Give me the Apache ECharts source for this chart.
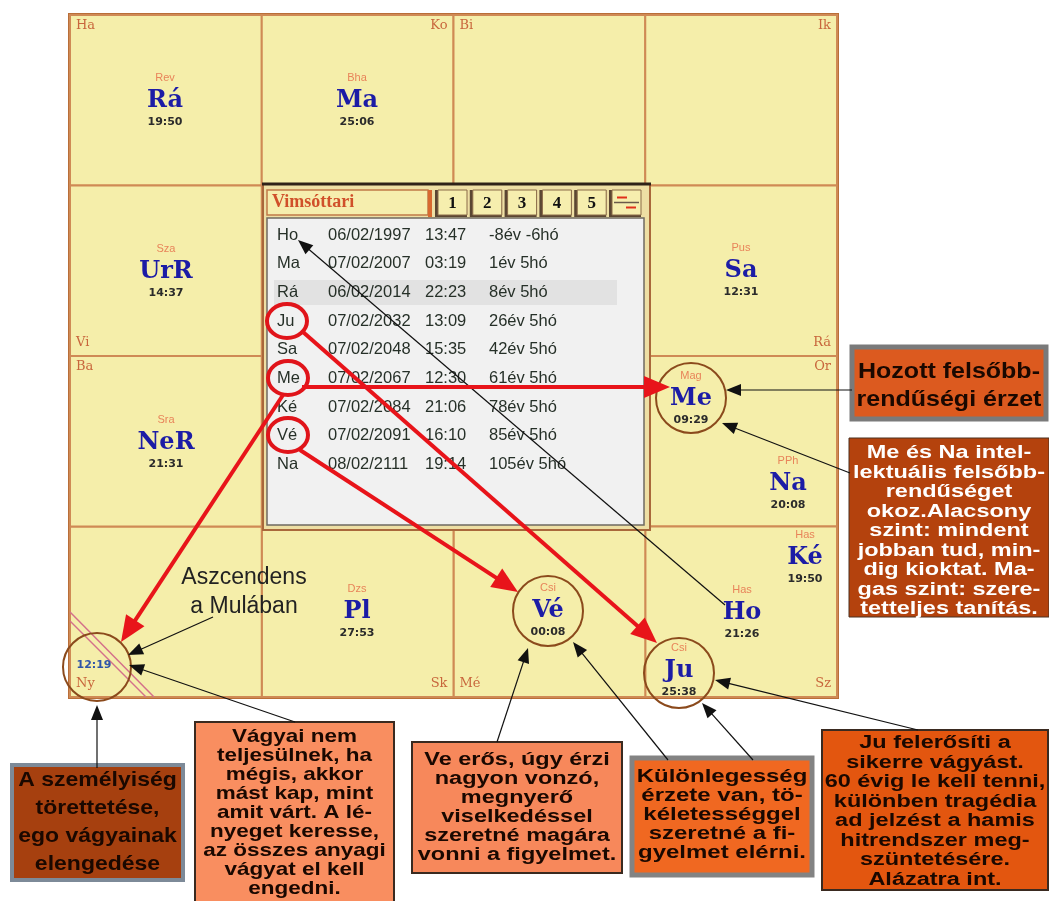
<!DOCTYPE html>
<html>
<head>
<meta charset="utf-8">
<script src="https://cdn.jsdelivr.net/npm/echarts@6/dist/echarts.min.js"></script>
<style>
  html, body { margin: 0; padding: 0; background: #fff; }
  #chart { width: 1049px; height: 901px; }
</style>
</head>
<body>
<div id="chart"></div>
<script>
// --- rasi (sign) cells, clockwise from top-left
const signs = ['Ha', 'Ko', 'Bi', 'Ik', 'Rá', 'Or', 'Sz', 'Mé', 'Sk', 'Ny', 'Ba', 'Vi'];
const signCol = [0, 1, 2, 3, 3, 3, 3, 2, 1, 0, 0, 0];
const signRow = [0, 0, 0, 0, 1, 2, 3, 3, 3, 3, 2, 1];
const signCorner = ['tl', 'tr', 'tl', 'tr', 'br', 'tr', 'br', 'bl', 'br', 'bl', 'tl', 'bl'];

// --- planets
const planetNames = ['Rá', 'Ma', 'UrR', 'Sa', 'NeR', 'Me', 'Na', 'Ké', 'Ho', 'Pl', 'Vé', 'Ju'];
const planetNaks = ['Rev', 'Bha', 'Sza', 'Pus', 'Sra', 'Mag', 'PPh', 'Has', 'Has', 'Dzs', 'Csi', 'Csi'];
const planetDegrees = ['19:50', '25:06', '14:37', '12:31', '21:31', '09:29', '20:08', '19:50', '21:26', '27:53', '00:08', '25:38'];
const planetX = [165, 357, 166, 741, 166, 691, 788, 805, 742, 357, 548, 679];
const planetY = [100, 100, 271, 270, 442, 398, 483, 557, 612, 611, 610, 670];
const ascDegree = '12:19';

// --- Vimsóttari dasa table
const dasaLords = ['Ho', 'Ma', 'Rá', 'Ju', 'Sa', 'Me', 'Ké', 'Vé', 'Na'];
const dasaDates = ['06/02/1997', '07/02/2007', '06/02/2014', '07/02/2032', '07/02/2048', '07/02/2067', '07/02/2084', '07/02/2091', '08/02/2111'];
const dasaTimes = ['13:47', '03:19', '22:23', '13:09', '15:35', '12:30', '21:06', '16:10', '19:14'];
const dasaAges = ['-8év -6hó', '1év 5hó', '8év 5hó', '26év 5hó', '42év 5hó', '61év 5hó', '78év 5hó', '85év 5hó', '105év 5hó'];
const dasaButtons = ['1', '2', '3', '4', '5'];

// --- circled placements [x, y, r]
const circles = [[691, 398, 35], [548, 611, 35], [679, 673, 35], [97, 667, 34]];
const tableMarks = [[287, 321], [288, 378], [288, 435]];

// --- arrows [fromX, fromY, toX, toY]
const redArrows = [[303, 332, 657, 643], [302, 387, 670, 387], [300, 450, 518, 592], [283, 395, 121, 642]];
const blackArrows = [
  [725, 605, 298, 240], [852, 390, 726, 390], [850, 473, 722, 423], [213, 617, 128, 655],
  [295, 722, 129, 665], [97, 768, 97, 705], [497, 742, 528, 648], [668, 760, 573, 642],
  [753, 760, 702, 703], [918, 730, 715, 680]
];

// --- notes
const noteTexts = [
  'Hozott felsőbb-\nrendűségi érzet',
  'Me és Na intel-\nlektuális felsőbb-\nrendűséget\nokoz.Alacsony\nszint: mindent\njobban tud, min-\ndig kioktat. Ma-\ngas szint: szere-\ntetteljes tanítás.',
  'A személyiség\ntörettetése,\nego vágyainak\nelengedése',
  'Vágyai nem\nteljesülnek, ha\nmégis, akkor\nmást kap, mint\namit várt. A lé-\nnyeget keresse,\naz összes anyagi\nvágyat el kell\nengedni.',
  'Ve erős, úgy érzi\nnagyon vonzó,\nmegnyerő\nviselkedéssel\nszeretné magára\nvonni a figyelmet.',
  'Különlegesség\nérzete van, tö-\nkéletességgel\nszeretné a fi-\ngyelmet elérni.',
  'Ju felerősíti a\nsikerre vágyást.\n60 évig le kell tenni,\nkülönben tragédia\nad jelzést a hamis\nhitrendszer meg-\nszüntetésére.\nAlázatra int.'
];
const noteBoxes = [[852, 347, 1046, 419], [849, 438, 1049, 617], [12, 765, 183, 880], [195, 722, 394, 905], [412, 742, 622, 873], [632, 758, 812, 875], [822, 730, 1048, 890]];
const noteFirstLine = [372, 453, 780, 737, 760, 777, 743];
const noteLineGap = [28, 19.5, 28, 19, 19, 19, 19.5];
const noteFontSize = [25, 23.5, 23, 22.5, 23.5, 24, 23.5];
const noteFill = ['#dc5a1f', '#b4420d', '#a6400f', '#f98e60', '#f7885b', '#f06821', '#e3560f'];
const noteBorder = ['#7a7a7a', '#4a3020', '#7d8a98', '#3a2a20', '#3a2a20', '#838383', '#3a2a20'];
const noteBorderW = [5, 1, 4, 2, 2, 5, 2];
const noteColor = ['#1a0800', '#ffffff', '#1a0800', '#1a0800', '#1a0800', '#1a0800', '#1a0800'];

const X0 = 70, Y0 = 15, CW = 191.75, CH = 170.5;
const cellFill = '#f5eeaa', cellLine = '#cf8a55';

const chart = echarts.init(document.getElementById('chart'));

const pt = (api, x, y) => api.coord([x, y]);

function arrow(api, d, color, width, headLen, headW) {
  const a = pt(api, d[0], d[1]), b = pt(api, d[2], d[3]);
  const dx = b[0] - a[0], dy = b[1] - a[1], L = Math.hypot(dx, dy);
  const ux = dx / L, uy = dy / L;
  const bx = b[0] - ux * headLen, by = b[1] - uy * headLen;
  return [
    { type: 'line', shape: { x1: a[0], y1: a[1], x2: bx + ux * 2, y2: by + uy * 2 }, style: { stroke: color, lineWidth: width } },
    { type: 'polygon', shape: { points: [[b[0], b[1]], [bx - uy * headW, by + ux * headW], [bx + uy * headW, by - ux * headW]] }, style: { fill: color } }
  ];
}

function txt(p, text, font, fill, align, vAlign) {
  return { type: 'text', x: p[0], y: p[1], style: { text, font, fill, align: align || 'center', verticalAlign: vAlign || 'middle' } };
}

const base = { type: 'custom', coordinateSystem: 'cartesian2d', silent: true, clip: false };

const option = {
  animation: false,
  backgroundColor: '#ffffff',
  grid: { left: 0, right: 0, top: 0, bottom: 0 },
  xAxis: { type: 'value', min: 0, max: 1049, show: false },
  yAxis: { type: 'value', min: 0, max: 901, inverse: true, show: false },
  series: [
    // chart frame + middle background
    Object.assign({}, base, {
      z: 1,
      data: [[0]],
      renderItem: (params, api) => {
        const a = pt(api, X0, Y0), b = pt(api, X0 + 4 * CW, Y0 + 4 * CH);
        return { type: 'rect', shape: { x: a[0], y: a[1], width: b[0] - a[0], height: b[1] - a[1] },
          style: { fill: cellFill, stroke: '#b96e38', lineWidth: 4 } };
      }
    }),
    // sign cells
    Object.assign({}, base, {
      z: 2,
      data: signs.map((s, i) => [signCol[i], signRow[i]]),
      renderItem: (params, api) => {
        const i = params.dataIndex;
        const c = api.value(0), r = api.value(1);
        const a = pt(api, X0 + c * CW, Y0 + r * CH), b = pt(api, X0 + (c + 1) * CW, Y0 + (r + 1) * CH);
        const corner = signCorner[i];
        const tx = corner[1] === 'l' ? a[0] + 6 : b[0] - 6;
        const ty = corner[0] === 't' ? a[1] + 11 : b[1] - 13;
        return { type: 'group', children: [
          { type: 'rect', shape: { x: a[0], y: a[1], width: b[0] - a[0], height: b[1] - a[1] },
            style: { fill: cellFill, stroke: cellLine, lineWidth: 2 } },
          txt([tx, ty], signs[i], '13px "DejaVu Serif"', '#c8663c', corner[1] === 'l' ? 'left' : 'right')
        ] };
      }
    }),
    // dasa panel frame, header and buttons
    Object.assign({}, base, {
      z: 3,
      data: [[0]],
      renderItem: (params, api) => {
        const o0 = pt(api, 263, 184), o1 = pt(api, 650, 530);
        const w0 = pt(api, 267, 218), w1 = pt(api, 644, 525);
        const h0 = pt(api, 267, 190), h1 = pt(api, 428, 215);
        const hl0 = pt(api, 274, 280), hl1 = pt(api, 617, 305);
        const kids = [
          { type: 'rect', shape: { x: o0[0], y: o0[1], width: o1[0] - o0[0], height: o1[1] - o0[1] }, style: { fill: '#eedfa4', stroke: '#a9683b', lineWidth: 2 } },
          { type: 'line', shape: { x1: o0[0] - 1, y1: o0[1], x2: o1[0] + 1, y2: o0[1] }, style: { stroke: '#2e2218', lineWidth: 3 } },
          { type: 'rect', shape: { x: w0[0], y: w0[1], width: w1[0] - w0[0], height: w1[1] - w0[1] }, style: { fill: '#f1f1f1', stroke: '#6f6a60', lineWidth: 1.5 } },
          { type: 'rect', shape: { x: hl0[0], y: hl0[1], width: hl1[0] - hl0[0], height: hl1[1] - hl0[1] }, style: { fill: '#e2e2e2' } },
          { type: 'rect', shape: { x: h0[0], y: h0[1], width: h1[0] - h0[0], height: h1[1] - h0[1] }, style: { fill: '#f6eeae', stroke: '#c07a48', lineWidth: 1.5 } },
          { type: 'rect', shape: { x: h1[0], y: h0[1], width: 4, height: h1[1] - h0[1] + 2 }, style: { fill: '#d8692f' } },
          txt([h0[0] + 5, (h0[1] + h1[1]) / 2], 'Vimsóttari', 'bold 18px "Liberation Serif"', '#d0502a', 'left')
        ];
        dasaButtons.concat(['']).forEach((lbl, k) => {
          const b0 = pt(api, 438 + k * 34.8, 190), b1 = pt(api, 467 + k * 34.8, 215);
          kids.push({ type: 'rect', shape: { x: b0[0] - 3, y: b0[1], width: b1[0] - b0[0] + 3, height: b1[1] - b0[1] + 2 }, style: { fill: '#5b4632' } });
          kids.push({ type: 'rect', shape: { x: b0[0], y: b0[1], width: b1[0] - b0[0], height: b1[1] - b0[1] }, style: { fill: '#f6eeae', stroke: '#8a6a48', lineWidth: 1 } });
          if (lbl) {
            kids.push(txt([(b0[0] + b1[0]) / 2, (b0[1] + b1[1]) / 2 + 1], lbl, 'bold 17px "Liberation Serif"', '#111'));
          } else {
            const m = (b0[1] + b1[1]) / 2;
            kids.push({ type: 'line', shape: { x1: b0[0] + 2, y1: m, x2: b1[0] - 2, y2: m }, style: { stroke: '#6a5a4a', lineWidth: 1.5 } });
            kids.push({ type: 'line', shape: { x1: b0[0] + 5, y1: m - 5, x2: b0[0] + 15, y2: m - 5 }, style: { stroke: '#e0301a', lineWidth: 2 } });
            kids.push({ type: 'line', shape: { x1: b1[0] - 15, y1: m + 5, x2: b1[0] - 5, y2: m + 5 }, style: { stroke: '#e0301a', lineWidth: 2 } });
          }
        });
        return { type: 'group', children: kids };
      }
    }),
    // dasa rows
    Object.assign({}, base, {
      z: 4,
      data: dasaLords.map((l, i) => [i]),
      renderItem: (params, api) => {
        const i = params.dataIndex;
        const y = 235 + api.value(0) * 28.7;
        const f = '16.5px "Liberation Sans"', c = '#263028';
        return { type: 'group', children: [
          txt(pt(api, 277, y), dasaLords[i], f, c, 'left'),
          txt(pt(api, 328, y), dasaDates[i], f, c, 'left'),
          txt(pt(api, 425, y), dasaTimes[i], f, c, 'left'),
          txt(pt(api, 489, y), dasaAges[i], f, c, 'left')
        ] };
      }
    }),
    // planets
    Object.assign({}, base, {
      z: 5,
      data: planetNames.map((n, i) => [planetX[i], planetY[i]]),
      renderItem: (params, api) => {
        const i = params.dataIndex;
        const x = api.value(0), y = api.value(1);
        return { type: 'group', children: [
          txt(pt(api, x, y - 22), planetNaks[i], '11px "Liberation Sans"', '#e8845a'),
          txt(pt(api, x, y + 1), planetNames[i], 'bold 24px "DejaVu Serif"', '#1c1ca6'),
          txt(pt(api, x, y + 22), planetDegrees[i], 'bold 11px "DejaVu Sans"', '#2b2b2b')
        ] };
      }
    }),
    // ascendant marker
    Object.assign({}, base, {
      z: 5,
      data: [[94, 665]],
      renderItem: (params, api) => {
        const p = pt(api, api.value(0), api.value(1));
        const l1a = pt(api, 70, 612), l1b = pt(api, 154, 697);
        const l2a = pt(api, 70, 621), l2b = pt(api, 146, 697);
        return { type: 'group', children: [
          { type: 'line', shape: { x1: l1a[0], y1: l1a[1], x2: l1b[0], y2: l1b[1] }, style: { stroke: '#d4708a', lineWidth: 1.5 } },
          { type: 'line', shape: { x1: l2a[0], y1: l2a[1], x2: l2b[0], y2: l2b[1] }, style: { stroke: '#d4708a', lineWidth: 1.5 } },
          txt(p, ascDegree, 'bold 11px "DejaVu Sans"', '#2f55a8')
        ] };
      }
    }),
    // circles
    Object.assign({}, base, {
      z: 6,
      data: circles,
      renderItem: (params, api) => {
        const c = pt(api, api.value(0), api.value(1));
        return { type: 'circle', shape: { cx: c[0], cy: c[1], r: api.value(2) }, style: { fill: 'none', stroke: '#8b4a1c', lineWidth: 2 } };
      }
    }),
    // Aszcendens label
    Object.assign({}, base, {
      z: 6,
      data: [[244, 578]],
      renderItem: (params, api) => {
        const p = pt(api, api.value(0), api.value(1));
        return { type: 'group', children: [
          txt(p, 'Aszcendens', '23px "Liberation Sans"', '#222'),
          txt([p[0], p[1] + 29], 'a Mulában', '23px "Liberation Sans"', '#222')
        ] };
      }
    }),
    // notes
    Object.assign({}, base, {
      z: 7,
      data: noteBoxes,
      renderItem: (params, api) => {
        const i = params.dataIndex;
        const a = pt(api, api.value(0), api.value(1)), b = pt(api, api.value(2), api.value(3));
        const sy = noteLineGap[i] > 25 ? 0.9 : 0.8;
        const gap = noteLineGap[i];
        const top = pt(api, (api.value(0) + api.value(2)) / 2, noteFirstLine[i] - gap / 2);
        return { type: 'group', children: [
          { type: 'rect', shape: { x: a[0], y: a[1], width: b[0] - a[0], height: b[1] - a[1] },
            style: { fill: noteFill[i], stroke: noteBorder[i], lineWidth: noteBorderW[i] } },
          { type: 'text', x: top[0], y: top[1], scaleY: sy,
            style: { text: noteTexts[i], font: 'bold ' + noteFontSize[i] + 'px "Liberation Sans"', fill: noteColor[i],
              align: 'center', verticalAlign: 'top', lineHeight: gap / sy } }
        ] };
      }
    }),
    // black pointer arrows
    Object.assign({}, base, {
      z: 8,
      data: blackArrows,
      renderItem: (params, api) => ({ type: 'group', children: arrow(api, [api.value(0), api.value(1), api.value(2), api.value(3)], '#111', 1.2, 15, 6) })
    }),
    // red dasa marks and arrows
    Object.assign({}, base, {
      z: 9,
      data: tableMarks,
      renderItem: (params, api) => {
        const c = pt(api, api.value(0), api.value(1));
        return { type: 'ellipse', shape: { cx: c[0], cy: c[1], rx: 20, ry: 17 }, style: { fill: 'none', stroke: '#e0141a', lineWidth: 4 } };
      }
    }),
    Object.assign({}, base, {
      z: 9,
      data: redArrows,
      renderItem: (params, api) => ({ type: 'group', children: arrow(api, [api.value(0), api.value(1), api.value(2), api.value(3)], '#e8141a', 4, 26, 11) })
    })
  ]
};

chart.setOption(option);
</script>
</body>
</html>
